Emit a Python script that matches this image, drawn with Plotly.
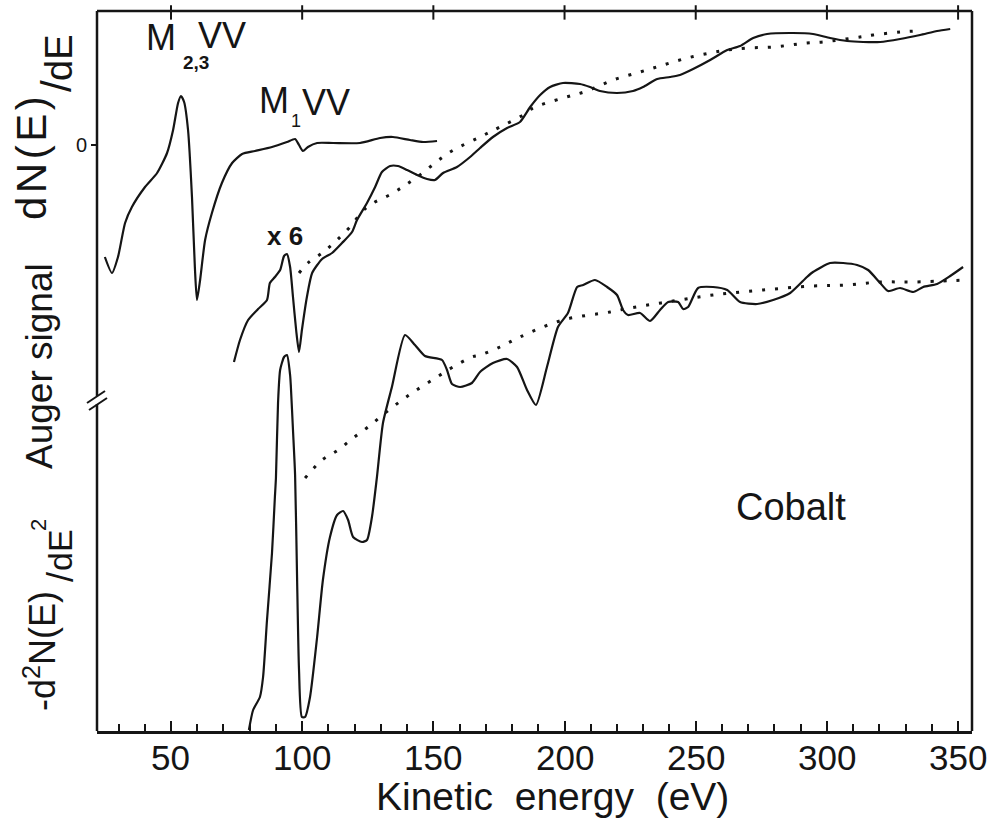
"""
Auger spectrum of cobalt: dN(E)/dE (x1 and x6) and -d2N(E)/dE2 with backgrounds.
"""

import plotly.graph_objects as go

# ── Data (kinetic energy in eV, signal in arbitrary units) ──
DNDE_E = [24.8, 27.5, 29.8, 32.5, 35.1, 40.1, 44.7, 48.5, 50.8, 52.7, 53.8, 55.0,
          56.5, 58.0, 59.1, 59.9, 61.1, 63.0, 65.6, 69.4, 73.3, 77.1, 82.0, 88.5,
          94.2, 97.3, 98.8, 100.3, 102.2, 105.7, 111.8, 122.0, 129.7, 134.6,
          141.1, 146.1, 151.4]
DNDE_S = [474, 458, 474, 508, 524, 544, 558, 578, 601, 628, 635, 629,
          601, 534, 464, 431, 451, 491, 518, 548, 568, 577, 580, 584,
          589, 592, 586, 580, 584, 588, 588, 588, 593, 594,
          591, 589, 590]

X6_E = [74.0, 76.3, 79.4, 83.2, 86.6, 87.7, 89.6, 91.6, 93.1, 94.2, 95.4, 96.5,
        97.7, 98.8, 99.9, 101.8, 103.8, 107.6, 111.4, 115.2, 119.0, 120.9, 124.7,
        127.8, 130.4, 133.5, 136.5, 140.0, 143.8, 147.6, 150.6, 153.7, 159.0,
        164.0, 167.8, 172.7, 178.1, 183.0, 186.9, 190.7, 194.5, 199.4, 205.9,
        209.7, 213.5, 220.0, 226.1, 229.9, 235.3, 240.2, 244.0, 249.0, 255.5,
        262.0, 266.9, 271.9, 277.2, 287.1, 294.7, 301.2, 307.7, 313.8, 320.3,
        327.9, 335.5, 342.0, 347.0]
X6_S = [369, 391, 411, 422, 431, 448, 454, 461, 475, 477, 464, 434,
        401, 379, 401, 434, 458, 472, 478, 488, 499, 511, 528,
        544, 559, 565, 565, 561, 556, 552, 551, 558, 564,
        574, 583, 594, 603, 609, 624, 636, 644, 648, 647,
        644, 640, 638, 640, 644, 652, 654, 656, 662, 671,
        681, 685, 693, 697, 698, 697, 693, 690, 689, 689,
        692, 696, 700, 702]

X6_BG_E = [98.8, 102.2, 107.6, 112.5, 118.2, 124.7, 134.6, 143.8, 156.4, 167.8,
           175.4, 184.2, 188.0, 199.4, 208.6, 218.5, 228.8, 237.6, 246.7, 255.5,
           262.0, 269.6, 279.5, 292.4, 298.5, 312.6, 317.6, 327.9, 334.4]
X6_BG_S = [458, 468, 478, 489, 504, 524, 538, 554, 579, 594,
           604, 616, 623, 633, 640, 651, 659, 666, 673, 678,
           681, 683, 684, 688, 689, 694, 696, 699, 700]

D2_E = [79.7, 81.3, 83.9, 85.1, 86.6, 88.5, 89.6, 90.0, 90.8, 91.6, 93.1, 94.2,
        95.4, 95.7, 96.5, 97.3, 98.0, 98.8, 99.9, 101.1, 103.0, 105.7, 107.9,
        110.6, 113.3, 115.6, 117.5, 119.4, 122.8, 124.7, 126.6, 128.5, 130.8,
        134.2, 139.2, 143.0, 146.8, 153.3, 155.2, 157.1, 160.2, 164.7, 167.8,
        172.7, 178.1, 181.9, 185.7, 189.1, 193.3, 197.5, 201.3, 204.8, 207.1,
        211.6, 216.2, 220.0, 222.3, 224.2, 228.8, 232.6, 236.4, 239.5, 243.3,
        245.2, 247.1, 250.9, 256.6, 262.0, 266.9, 273.4, 279.5, 286.0, 292.4,
        294.7, 301.2, 306.2, 311.5, 315.7, 320.3, 323.3, 327.9, 332.9, 336.7,
        342.0, 347.0, 351.9]
D2_S = [1, 21, 34, 54, 111, 178, 234, 253, 328, 361, 374, 376,
        356, 344, 301, 256, 161, 61, 14, 14, 34, 94, 151,
        194, 216, 220, 211, 194, 189, 191, 214, 254, 308,
        344, 396, 386, 375, 371, 361, 347, 344, 348, 359,
        368, 372, 364, 341, 326, 364, 404, 418, 444, 446,
        451, 444, 436, 421, 416, 418, 410, 421, 429, 429,
        422, 424, 443, 444, 441, 429, 427, 431, 438, 454,
        459, 468, 468, 466, 461, 448, 440, 443, 439, 444,
        447, 455, 464]

D2_BG_E = [101.1, 107.6, 113.7, 119.4, 125.1, 131.6, 138.1, 144.2, 151.4, 157.5,
           164.7, 167.8, 175.4, 183.0, 199.4, 217.4, 225.0, 239.1, 256.6, 275.7,
           294.7, 307.7, 320.3, 332.9, 352.7]
D2_BG_S = [253, 271, 281, 293, 304, 318, 331, 342, 354, 364,
           374, 376, 384, 394, 411, 419, 423, 429, 436, 441,
           445, 446, 449, 449, 451]

ZERO_LEVEL = [586]          # dN/dE zero marked on the left axis
X_TICKS = [50, 100, 150, 200, 250, 300, 350]
X_RANGE = [21.8, 355.3]
Y_RANGE = [0, 720]

# ── Page geometry ──
W, H = 998, 829
ML, MR, MT, MB = 97, 26, 11, 98
INK = "#151515"
FONT = "Liberation Sans, Arial, sans-serif"
HAIR = "\u200a"


def _paper(px, py):
    """Pixel position on the page -> paper coordinates."""
    return (px - ML) / (W - ML - MR), (H - MB - py) / (H - MT - MB)


def _text(fig, px, py, text, size, angle=0, bold=False):
    x, y = _paper(px, py)
    if bold:
        text = f"<b>{text}</b>"
    fig.add_annotation(
        x=x, y=y, xref="paper", yref="paper", text=text,
        showarrow=False, textangle=angle, xanchor="center", yanchor="middle",
        borderpad=0, font=dict(family=FONT, size=size, color=INK),
    )


def _line(fig, p0, p1, width=2.5):
    x0, y0 = _paper(*p0)
    x1, y1 = _paper(*p1)
    fig.add_shape(type="line", xref="paper", yref="paper",
                  x0=x0, y0=y0, x1=x1, y1=y1,
                  line=dict(color=INK, width=width))


fig = go.Figure()

for xs, ys in [(DNDE_E, DNDE_S), (X6_E, X6_S), (D2_E, D2_S)]:
    fig.add_trace(go.Scatter(
        x=xs, y=ys, mode="lines",
        line=dict(color=INK, width=2.2, shape="spline", smoothing=0.6),
        hoverinfo="skip",
    ))

for xs, ys in [(X6_BG_E, X6_BG_S), (D2_BG_E, D2_BG_S)]:
    fig.add_trace(go.Scatter(
        x=xs, y=ys, mode="lines",
        line=dict(color=INK, width=3, dash="3px,10px", shape="spline"),
        hoverinfo="skip",
    ))

fig.update_layout(
    width=W, height=H,
    margin=dict(l=ML, r=MR, t=MT, b=MB),
    paper_bgcolor="white", plot_bgcolor="white",
    showlegend=False,
    font=dict(family=FONT, color=INK),
    xaxis=dict(
        range=X_RANGE, showgrid=False, zeroline=False,
        showline=True, linecolor=INK, linewidth=2.5,
        tickvals=X_TICKS, showticklabels=False,
        ticks="inside", ticklen=10, tickwidth=2, tickcolor=INK,
        minor=dict(dtick=10, tick0=0, ticks="inside", ticklen=7,
                   tickwidth=1.5, tickcolor=INK),
    ),
    yaxis=dict(
        range=Y_RANGE, showgrid=False, zeroline=False, showline=False,
        tickvals=ZERO_LEVEL, ticktext=["0"], ticks="outside", ticklen=5,
        tickwidth=2, tickcolor=INK, tickfont=dict(size=20, color=INK),
    ),
)

# energy labels under the bottom axis, crosses on the top edge
for t in X_TICKS:
    fig.add_annotation(x=t, xref="x", y=_paper(0, 757)[1], yref="paper",
                       text=str(t), showarrow=False, borderpad=0,
                       xanchor="center", yanchor="middle",
                       font=dict(family=FONT, size=35, color=INK))
    fig.add_shape(type="line", xref="x", yref="paper", x0=t, x1=t,
                  y0=0.988, y1=1.008, line=dict(color=INK, width=2))

# ── Frame: top, right edge, left edge with axis break ──
_line(fig, (97, 11), (972, 11))
_line(fig, (972, 11), (972, 731))
_line(fig, (97, 731), (97, 404))
_line(fig, (97, 396), (97, 11))
_line(fig, (87, 403), (105, 391), width=2)
_line(fig, (89, 410), (107, 398), width=2)

# ── Peak labels ──
_text(fig, 161, 38, "M", 36)
_text(fig, 196, 63, "2,3", 19, bold=True)
_text(fig, 222, 36, "VV", 36)
_text(fig, 274, 100, "M", 36)
_text(fig, 296, 121, "1", 18)
_text(fig, 326, 102, "VV", 36)
_text(fig, 285, 236, "x 6", 26, bold=True)
_text(fig, 791, 507, "Cobalt", 38)

# ── Axis titles ──
_text(fig, 552, 797, "Kinetic&nbsp; energy&nbsp; (eV)", 39)
_text(fig, 31, 158, HAIR.join("dN(E)"), 42, angle=-90)
_text(fig, 57, 86, "/", 42, angle=-90)
_text(fig, 59, 58, "dE", 38, angle=-90)
_text(fig, 39, 366, "Auger signal", 37, angle=-90)
_text(fig, 40, 651, "-d<sup>2</sup>N(E)", 36, angle=-90)
_text(fig, 60, 577, "/", 36, angle=-90)
_text(fig, 60, 550, "dE", 34, angle=-90)
_text(fig, 38, 525, "2", 22, angle=-90)

# the page body has a default 8px margin; drop it so the figure sits at (0, 0)
fig.write_html("out.html", config={"displayModeBar": False},
               post_script="document.body.style.margin='0px';")
